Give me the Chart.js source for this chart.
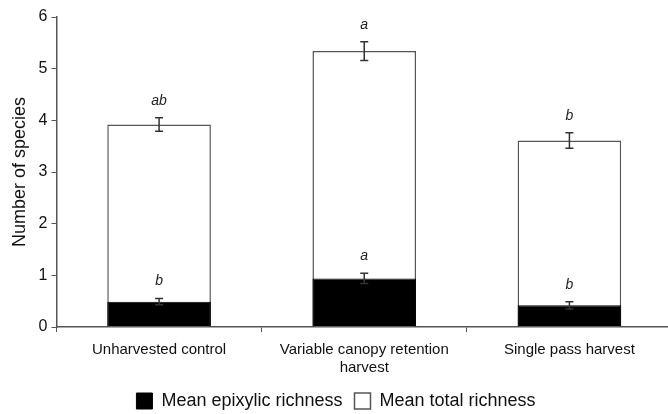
<!DOCTYPE html>
<html>
<head>
<meta charset="utf-8">
<script src="https://cdn.jsdelivr.net/npm/chart.js@4.4.1/dist/chart.umd.min.js"></script>
<style>
  body { margin: 0; background: #fff; overflow: hidden; }
  #chart { display: block; }
</style>
</head>
<body>
<canvas id="chart" width="672" height="414"></canvas>
<script>
const categories = ['Unharvested control', ['Variable canopy retention', 'harvest'], 'Single pass harvest'];
const epixylic = [0.49, 0.94, 0.42];
const epixylicErr = [0.06, 0.10, 0.07];
const epixylicLetters = ['b', 'a', 'b'];
const total = [3.92, 5.34, 3.61];
const totalErr = [0.13, 0.18, 0.15];
const totalLetters = ['ab', 'a', 'b'];
const yTicks = [0, 1, 2, 3, 4, 5, 6];

const axisColor = '#555';
const font = 'Liberation Sans, Arial, sans-serif';

// error bars + significance letters
const errorBars = {
  id: 'errorBars',
  afterDatasetsDraw(chart) {
    const ctx = chart.ctx;
    const x = chart.scales.x, y = chart.scales.y;
    const sets = [
      { vals: total, errs: totalErr, letters: totalLetters },
      { vals: epixylic, errs: epixylicErr, letters: epixylicLetters }
    ];
    ctx.save();
    ctx.strokeStyle = '#333';
    ctx.lineWidth = 1.5;
    ctx.fillStyle = '#222';
    ctx.font = 'italic 14px ' + font;
    ctx.textAlign = 'center';
    ctx.textBaseline = 'bottom';
    sets.forEach(s => {
      s.vals.forEach((v, i) => {
        const cx = x.getPixelForValue(i);
        const top = y.getPixelForValue(v + s.errs[i]);
        const bot = y.getPixelForValue(v - s.errs[i]);
        ctx.beginPath();
        ctx.moveTo(cx, top); ctx.lineTo(cx, bot);
        ctx.moveTo(cx - 4, top); ctx.lineTo(cx + 4, top);
        ctx.moveTo(cx - 4, bot); ctx.lineTo(cx + 4, bot);
        ctx.stroke();
        ctx.fillText(s.letters[i], cx, top - 10);
      });
    });
    ctx.restore();
  }
};

new Chart(document.getElementById('chart').getContext('2d'), {
  type: 'bar',
  data: {
    labels: categories,
    datasets: [{
      label: 'Mean epixylic richness',
      data: epixylic,
      backgroundColor: '#000',
      borderColor: '#000',
      borderWidth: 1,
      grouped: false,
      order: 1
    }, {
      label: 'Mean total richness',
      data: total,
      backgroundColor: '#fff',
      borderColor: axisColor,
      borderWidth: 1.5,
      grouped: false,
      order: 2
    }]
  },
  options: {
    responsive: false,
    animation: false,
    categoryPercentage: 1,
    barPercentage: 0.505,
    layout: { padding: { top: 17, right: 0, left: 0, bottom: -6 } },
    plugins: {
      tooltip: { enabled: false },
      legend: {
        position: 'bottom',
        labels: {
          color: '#111',
          font: { size: 18, family: font },
          boxWidth: 16,
          boxHeight: 16,
          padding: 12
        }
      }
    },
    scales: {
      x: {
        grid: { drawOnChartArea: false, drawTicks: true, tickLength: 5, color: axisColor, offset: true },
        border: { color: axisColor, width: 1.5 },
        ticks: { color: '#111', font: { size: 15, family: font }, maxRotation: 0, padding: 9 },
        afterFit: axis => { axis.height = 53; }
      },
      y: {
        min: 0,
        max: 6,
        afterBuildTicks: axis => { axis.ticks = yTicks.map(v => ({ value: v })); },
        grid: { drawOnChartArea: false, drawTicks: true, tickLength: 5, color: axisColor },
        border: { color: axisColor, width: 1.5 },
        ticks: { color: '#111', font: { size: 16, family: font }, padding: 4 },
        title: { display: true, text: 'Number of species', color: '#111', font: { size: 18, family: font }, padding: { top: 9, bottom: 4 } }
      }
    }
  },
  plugins: [errorBars]
});
</script>
</body>
</html>
